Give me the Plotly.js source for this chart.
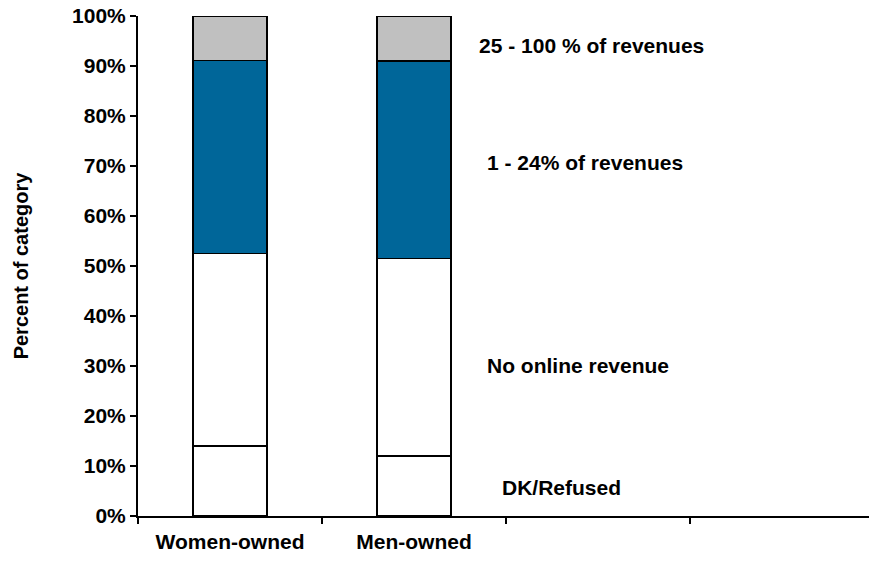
<!DOCTYPE html>
<html>
<head>
<meta charset="utf-8">
<script src="https://cdn.plot.ly/plotly-3.0.1.min.js"></script>
<style>html,body{margin:0;padding:0;background:#fff;}#chart{width:869px;height:563px;}</style>
</head>
<body>
<div id="chart"></div>
<script>
const categories = ['Women-owned', 'Men-owned'];
const axisSlots = ['Women-owned', 'Men-owned', ' ', '  '];
const dkRefused = [14, 12];
const noOnline = [38.5, 39.5];
const rev1to24 = [38.6, 39.5];
const rev25to100 = [8.9, 9.0];
const seriesNames = ['DK/Refused', 'No online revenue', '1 - 24% of revenues', '25 - 100 % of revenues'];
const seriesColors = ['#FFFFFF', '#FFFFFF', '#006699', '#C0C0C0'];
const yTicks = [0, 10, 20, 30, 40, 50, 60, 70, 80, 90, 100];

const FONT = 'Liberation Sans, Arial, sans-serif';
const FS = 21;
const seriesValues = [dkRefused, noOnline, rev1to24, rev25to100];

const traces = seriesValues.map((vals, i) => ({
  type: 'bar',
  name: seriesNames[i],
  x: categories,
  y: vals,
  width: 0.4,
  marker: { color: seriesColors[i], line: { color: '#000', width: 1.6 } },
  hoverinfo: 'skip'
}));

// label positions (x in category units, y in percent)
const labelPos = [
  { x: 1.80, y: 5.8, xanchor: 'center' },
  { x: 1.385, y: 30.2, xanchor: 'left' },
  { x: 1.385, y: 70.8, xanchor: 'left' },
  { x: 1.34, y: 94.2, xanchor: 'left' }
];

const annotations = seriesNames.map((n, i) => ({
  text: n,
  x: labelPos[i].x, y: labelPos[i].y,
  xref: 'x', yref: 'y',
  xanchor: labelPos[i].xanchor, yanchor: 'middle',
  showarrow: false,
  font: { family: FONT, size: FS, color: '#000', weight: 'bold' }
}));

const layout = {
  width: 869, height: 563,
  margin: { l: 138, r: 0, t: 16, b: 47, pad: 0 },
  paper_bgcolor: '#fff', plot_bgcolor: '#fff',
  barmode: 'stack',
  showlegend: false,
  font: { family: FONT, size: FS, color: '#000', weight: 'bold' },
  xaxis: {
    type: 'category',
    categoryorder: 'array',
    categoryarray: axisSlots,
    range: [-0.5, 3.473],
    tickson: 'boundaries',
    ticks: 'outside', ticklen: 6, tickwidth: 1.5, tickcolor: '#000',
    ticklabelstandoff: 6,
    showline: true, linecolor: '#000', linewidth: 2,
    showgrid: false, zeroline: false,
    tickfont: { family: FONT, size: FS, color: '#000', weight: 'bold' },
    fixedrange: true
  },
  yaxis: {
    range: [0, 100],
    tickvals: yTicks,
    ticktext: yTicks.map(v => v + '%'),
    ticks: 'outside', ticklen: 6, tickwidth: 1.5, tickcolor: '#000',
    showline: true, linecolor: '#000', linewidth: 2,
    showgrid: false, zeroline: false,
    tickfont: { family: FONT, size: FS, color: '#000', weight: 'bold' },
    title: { text: 'Percent of category', standoff: 38, font: { family: FONT, size: 20, color: '#000', weight: 'bold' } },
    automargin: false,
    fixedrange: true
  },
  annotations: annotations
};

Plotly.newPlot('chart', traces, layout, { displayModeBar: false, staticPlot: true });
</script>
</body>
</html>
